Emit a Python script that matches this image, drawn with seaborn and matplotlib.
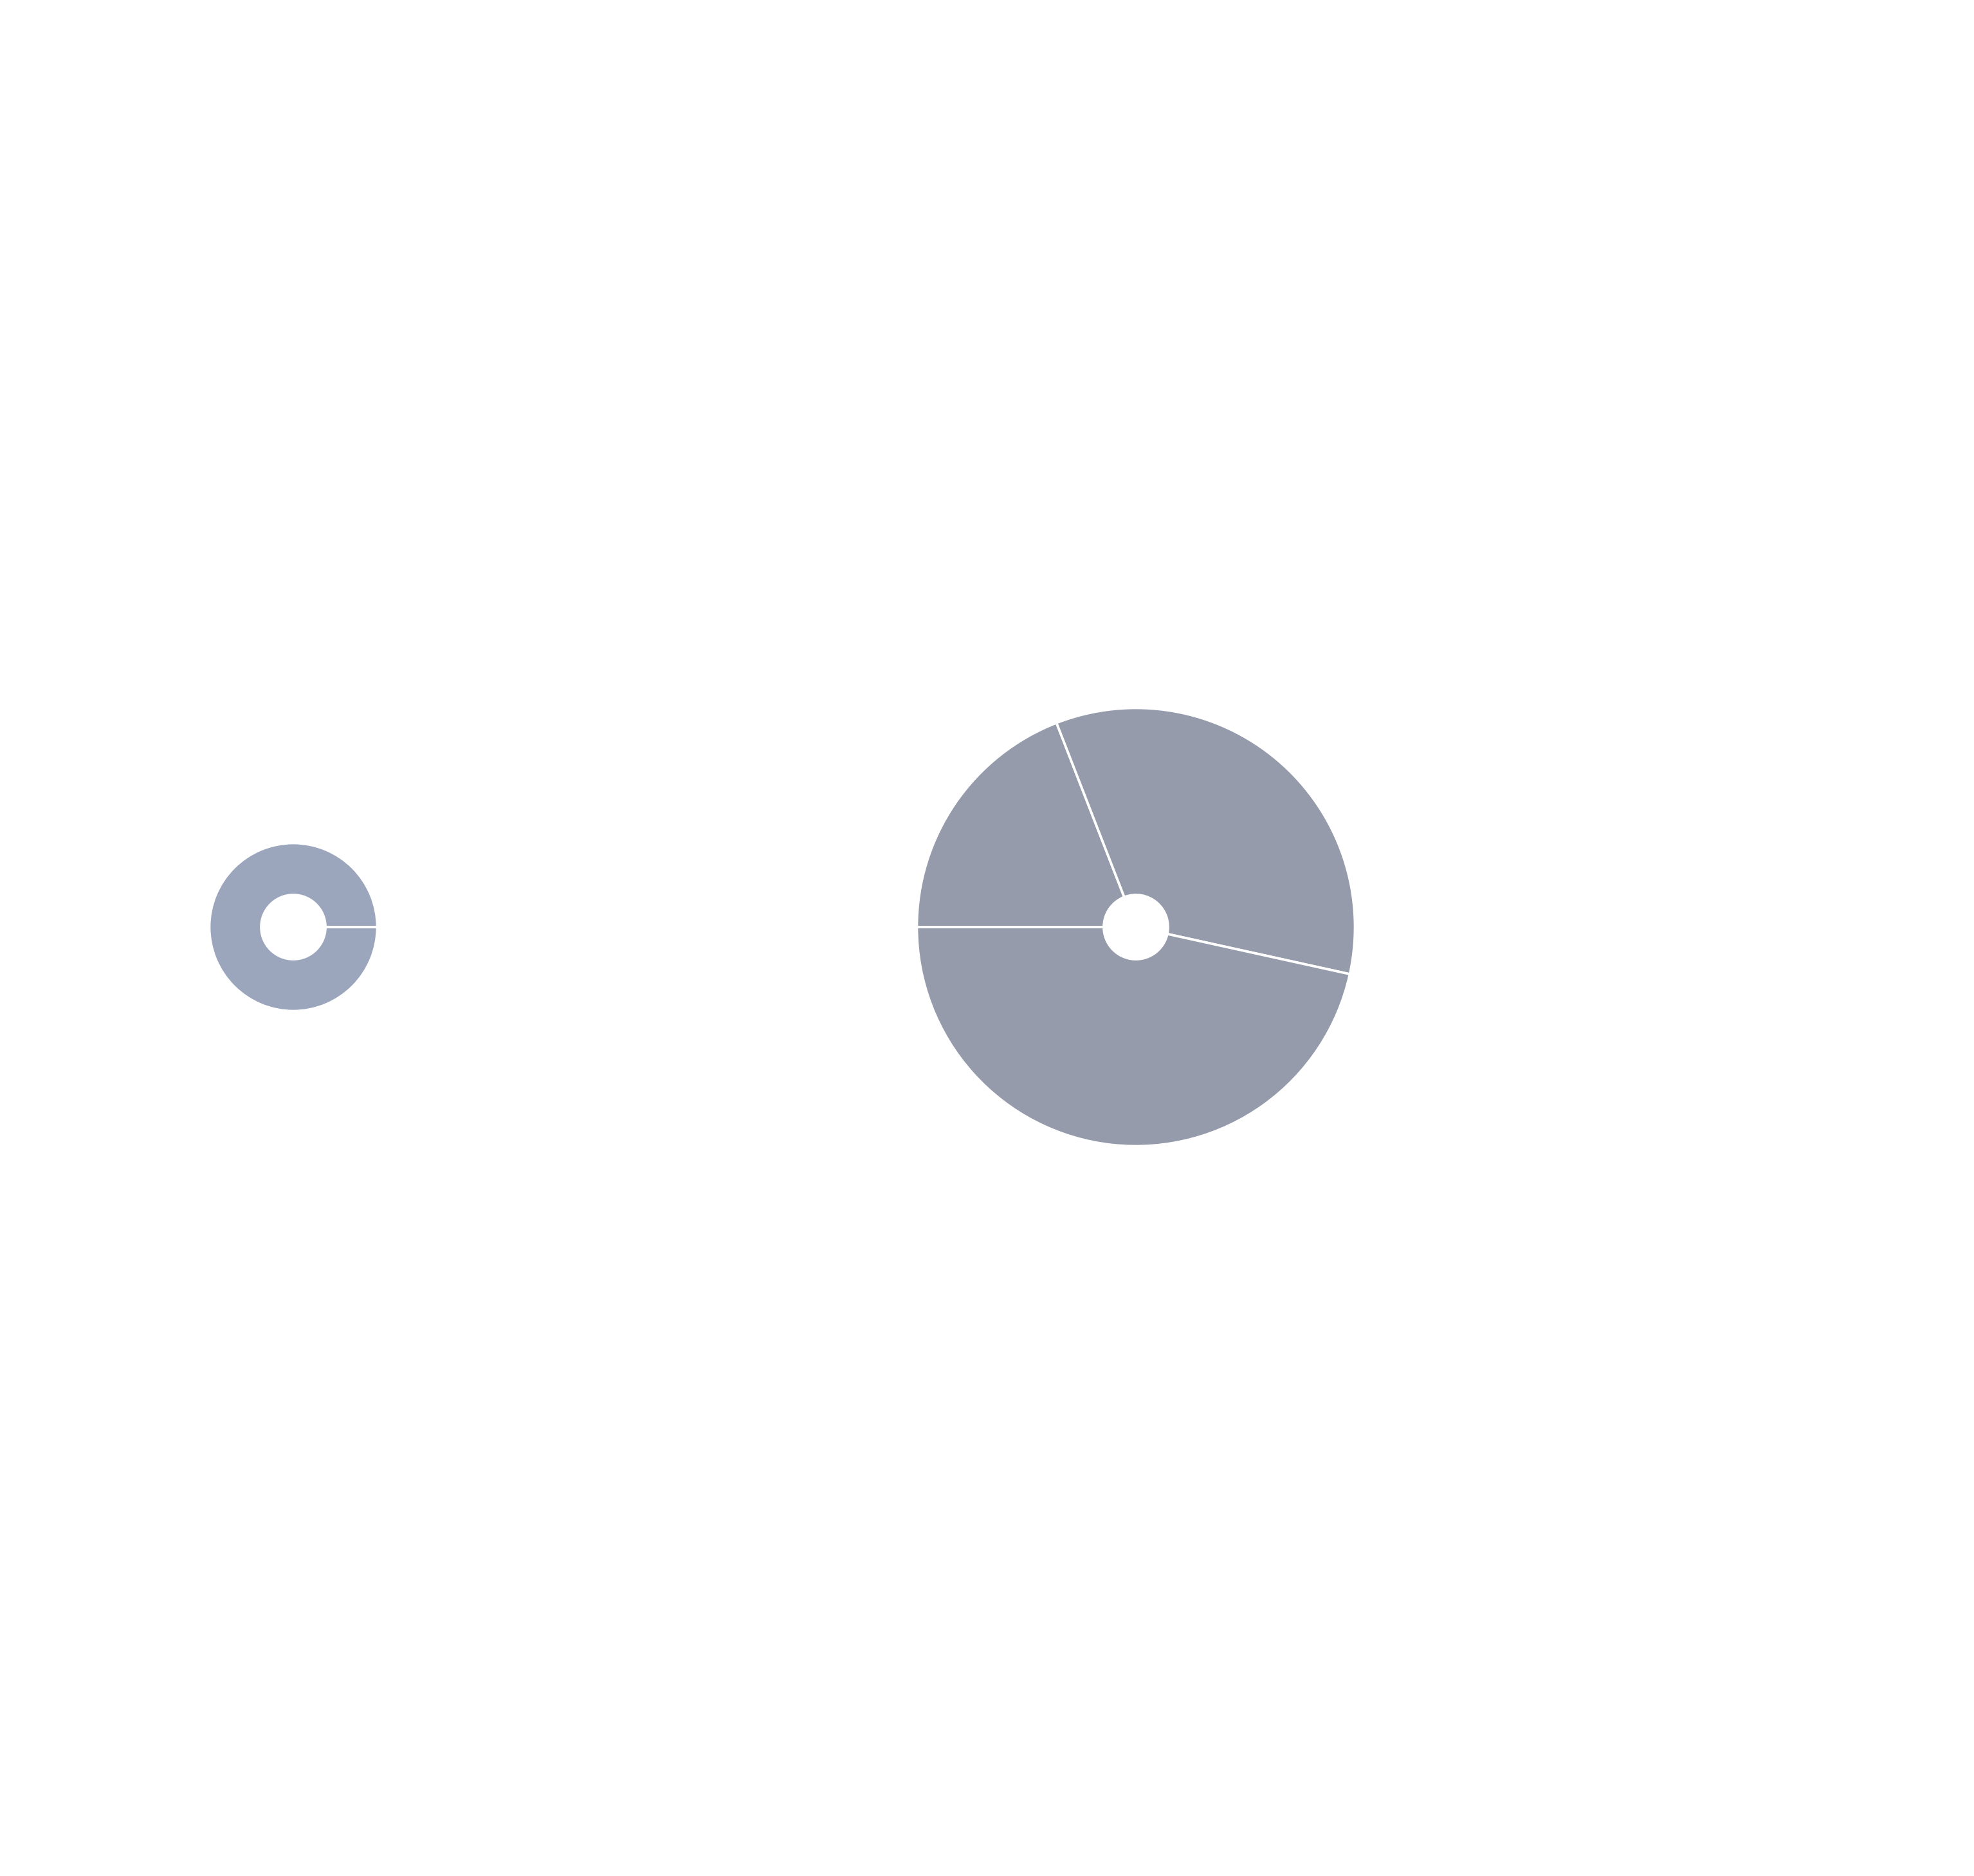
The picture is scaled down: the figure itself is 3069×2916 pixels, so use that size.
import numpy as np
import seaborn as sns
import matplotlib.pyplot as plt

# data: one ring per group, slice values per group
groups = ["g1", "g2"]
slice_values = {
    "g1": [13.0],
    "g2": [16.9, 30.4, 41.2],
}
group_colors = {"g1": "#9ba6bd", "g2": "#959bab"}

# layout (pixel space of the output image)
W, H = 3069, 2916
centers = {"g1": (456, H - 1441), "g2": (1766, H - 1441)}
scale = 36.2        # radius = scale * sqrt(total)
hole = 50           # fixed inner radius
start_angles = {"g1": 0, "g2": 180}

sns.set_theme(style="white")

fig = plt.figure(figsize=(W / 300, H / 300), dpi=300)
ax = fig.add_axes([0, 0, 1, 1])

for g in groups:
    vals = slice_values[g]
    r = scale * np.sqrt(sum(vals))
    wedges, _ = ax.pie(
        vals, center=centers[g], radius=r,
        colors=[group_colors[g]] * len(vals),
        startangle=start_angles[g], counterclock=False,
        wedgeprops=dict(width=r - hole, edgecolor="white", linewidth=0.9),
        frame=True,
    )
    # keep the seam visible on single-slice rings
    if len(vals) == 1:
        w = wedges[0]
        w.set_theta1(w.theta1 + 1e-4)

ax.set_xlim(0, W)
ax.set_ylim(0, H)
ax.set_aspect("equal")
ax.axis("off")

plt.savefig("out.png", dpi=300, facecolor="white")
plt.close(fig)
